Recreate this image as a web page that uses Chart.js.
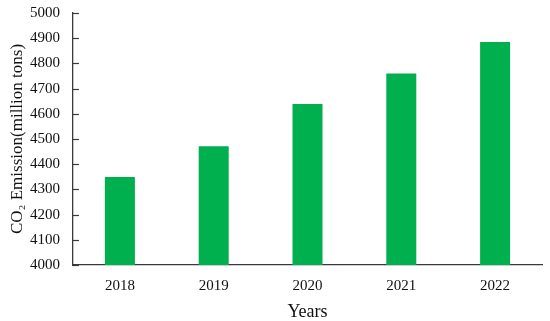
<!DOCTYPE html>
<html>
<head>
<meta charset="utf-8">
<script src="https://cdn.jsdelivr.net/npm/chart.js@4/dist/chart.umd.min.js"></script>
<style>
html,body{margin:0;padding:0;background:#fff;}
#wrap{width:550px;height:321px;position:relative;}
</style>
</head>
<body>
<div id="wrap"><canvas id="c" width="550" height="321"></canvas></div>
<script>
const years = ["2018", "2019", "2020", "2021", "2022"];
const emissions = [4349, 4471, 4639, 4760, 4885];
const yMin = 4000;
const yMax = 5000;
const yStep = 100;

const axisColor = '#3a3a3a';
const serif = "'Liberation Serif', 'DejaVu Serif', serif";

const inwardTicks = {
  id: 'inwardTicks',
  afterDraw(chart) {
    const y = chart.scales.y;
    const area = chart.chartArea;
    const ctx = chart.ctx;
    ctx.save();
    ctx.strokeStyle = axisColor;
    ctx.lineWidth = 1.2;
    y.ticks.forEach(t => {
      const py = Math.round(y.getPixelForValue(t.value)) + 0.5;
      ctx.beginPath();
      ctx.moveTo(area.left, py);
      ctx.lineTo(area.left + 6, py);
      ctx.stroke();
    });
    ctx.restore();
  }
};

new Chart(document.getElementById('c'), {
  type: 'bar',
  data: {
    labels: years,
    datasets: [{
      data: emissions,
      backgroundColor: '#00B04F',
      borderWidth: 0,
      barPercentage: 0.32,
      categoryPercentage: 1.0
    }]
  },
  options: {
    responsive: false,
    animation: false,
    devicePixelRatio: 1,
    layout: { padding: { top: 0, right: 8, left: 0, bottom: 0 } },
    plugins: { legend: { display: false }, tooltip: { enabled: false } },
    scales: {
      x: {
        grid: { display: false, drawTicks: false },
        border: { display: true, color: axisColor, width: 1.3 },
        ticks: { color: '#111', font: { family: serif, size: 15 }, padding: 12 },
        title: { display: true, text: 'Years', color: '#111', font: { family: serif, size: 18 }, padding: { top: 7, bottom: -2 } },
        afterFit(scale) { scale.height = 56; }
      },
      y: {
        min: yMin,
        max: yMax,
        grid: { display: false, drawTicks: false },
        border: { display: true, color: axisColor, width: 1.3 },
        ticks: { stepSize: yStep, color: '#111', font: { family: serif, size: 15 }, padding: 13,
                 callback: v => String(v) },
        title: { display: true, text: 'CO₂ Emission(million tons)', color: '#111', font: { family: serif, size: 17 }, padding: { top: 7, bottom: 2 } },
        afterFit(scale) { scale.width = 73; scale.paddingTop = 13; scale.paddingBottom = 0; }
      }
    }
  },
  plugins: [inwardTicks]
});
</script>
</body>
</html>
